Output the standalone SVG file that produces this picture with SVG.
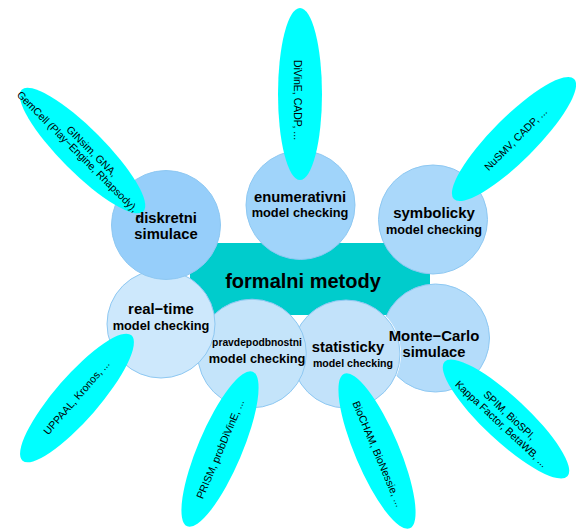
<svg xmlns="http://www.w3.org/2000/svg" width="576" height="532" viewBox="0 0 576 532">
<style>
.c{stroke:#8EC8F2;stroke-width:1}
.t{fill:#00FFFF;stroke:none}
.lb{font-family:"Liberation Sans",Arial,sans-serif;font-weight:bold;fill:#000;text-anchor:middle}
.tl{font-family:"Liberation Sans",Arial,sans-serif;fill:#000;text-anchor:middle;font-size:10.5px}
</style>
<defs>
<clipPath id="cutStat">
<path clip-rule="evenodd" d="M0 0H576V532H0Z M291 354a55 55 0 1 0 110 0a55 55 0 1 0 -110 0Z"/>
</clipPath>
</defs>
<rect width="576" height="532" fill="#FFFFFF"/>
<g id="connectors"></g>
<g id="formalni-metody">
<rect x="190" y="243" width="240" height="72" fill="#00CCCC"/>
<text class="lb" x="303" y="288" font-size="20">formalni metody</text>
</g>
<g id="statisticky">
<circle class="c" cx="346" cy="354" r="54" fill="#C2E2FA"/>
<g transform="translate(377,451) rotate(67)">
<ellipse class="t" cx="0" cy="0" rx="84" ry="22"/>
<text class="tl" x="3" y="4">BioCHAM, BioNessie, ...</text>
</g>
<text class="lb" x="348" y="352" font-size="14.8">statisticky</text>
<text class="lb" x="353" y="367" font-size="10.6">model checking</text>
</g>
<g id="pravdepodbnostni">
<circle class="c" cx="252" cy="353.5" r="54.3" fill="#C4E4FA"/>
<g transform="translate(220,449) rotate(-67)">
<ellipse class="t" cx="0" cy="0" rx="84" ry="22"/>
<text class="tl" x="0" y="4">PRISM, probDiVinE, ...</text>
</g>
<text class="lb" x="257" y="346" font-size="10.3">pravdepodbnostni</text>
<text class="lb" x="257" y="363" font-size="12.8">model checking</text>
</g>
<g id="real-time">
<circle class="c" cx="161" cy="324" r="54" fill="#CDE8FC"/>
<g transform="translate(77,398) rotate(-49)">
<ellipse class="t" cx="0" cy="0" rx="83" ry="22"/>
<text class="tl" x="0" y="3">UPPAAL, Kronos, ...</text>
</g>
<text class="lb" x="161" y="314" font-size="14.9">real−time</text>
<text class="lb" x="161" y="330" font-size="12.8">model checking</text>
</g>
<g id="diskretni">
<circle class="c" cx="166" cy="225" r="54.5" fill="#96CEFA"/>
<g transform="translate(82.5,150.5) rotate(45)">
<ellipse class="t" cx="0" cy="0" rx="86" ry="22"/>
<text class="tl" x="7" y="-2.5">GINsim, GNA,</text>
<text class="tl" x="3" y="8" font-size="8.4">GemCell (Play−Engine, Rhapsody), ...</text>
</g>
<text class="lb" x="166" y="223" font-size="14.8">diskretni</text>
<text class="lb" x="166" y="239" font-size="14.8">simulace</text>
</g>
<g id="enumerativni">
<circle class="c" cx="300.5" cy="205" r="54.5" fill="#A0D4FA"/>
<g transform="translate(300,94) rotate(90)">
<ellipse class="t" cx="0" cy="0" rx="86" ry="22"/>
<text class="tl" x="6" y="6">DiVinE, CADP, ...</text>
</g>
<text class="lb" x="300" y="202" font-size="14.8">enumerativni</text>
<text class="lb" x="300" y="217" font-size="12.8">model checking</text>
</g>
<g id="symbolicky">
<circle class="c" cx="433" cy="219.5" r="54.5" fill="#AAD8FA"/>
<g transform="translate(514,139) rotate(-45)">
<ellipse class="t" cx="0" cy="0" rx="85" ry="22"/>
<text class="tl" x="1" y="5">NuSMV, CADP, ...</text>
</g>
<text class="lb" x="434" y="218" font-size="15">symbolicky</text>
<text class="lb" x="434" y="234" font-size="12.7">model checking</text>
</g>
<g id="monte-carlo">
<circle class="c" cx="435.5" cy="338" r="54" fill="#B4DCFA" clip-path="url(#cutStat)"/>
<g transform="translate(506,419) rotate(43)">
<ellipse class="t" cx="0" cy="0" rx="84" ry="22"/>
<text class="tl" x="0" y="-1.5" font-size="10">SPIM, BioSPI,</text>
<text class="tl" x="0" y="10.5" font-size="10.2">Kappa Factor, BetaWB, ...</text>
</g>
<text class="lb" x="434" y="341" font-size="14.9">Monte−Carlo</text>
<text class="lb" x="434" y="357" font-size="14.7">simulace</text>
</g>
</svg>
